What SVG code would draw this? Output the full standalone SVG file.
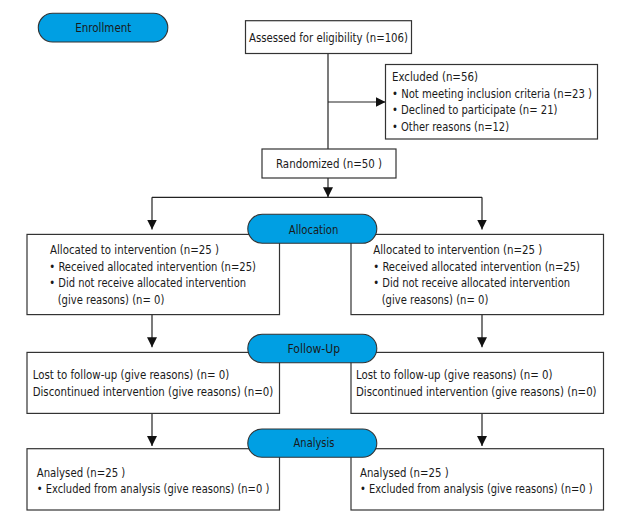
<svg xmlns="http://www.w3.org/2000/svg" width="630" height="525" viewBox="0 0 630 525">
<defs>
<style>
.box{fill:#fff;stroke:#333;stroke-width:1.2}
.pill{fill:#009fe3;stroke:#333;stroke-width:1.1}
.t{font-family:"Liberation Sans Narrow","DejaVu Sans Condensed","Liberation Sans",sans-serif;font-size:13px;fill:#1a1a1a}
.ln{fill:none;stroke:#222;stroke-width:1.2}
</style>
<marker id="ah" markerUnits="userSpaceOnUse" markerWidth="10" markerHeight="10" viewBox="0 0 9 9" refX="9" refY="4.5" orient="auto">
<path d="M0,0 L9,4.5 L0,9 z" fill="#111"/>
</marker>
</defs>
<rect width="630" height="525" fill="#fff"/>
<g id="connectors">
<path class="ln" d="M328,53.5 V149"/>
<path class="ln" d="M328,102 H385.5" marker-end="url(#ah)"/>
<path class="ln" d="M328,178 V197.3" marker-end="url(#ah)"/>
<path class="ln" d="M152,197.3 H482"/>
<path class="ln" d="M152,197.3 V229.5" marker-end="url(#ah)"/>
<path class="ln" d="M482,197.3 V229.5" marker-end="url(#ah)"/>
<path class="ln" d="M152,314.5 V347.3" marker-end="url(#ah)"/>
<path class="ln" d="M482,314.5 V347.3" marker-end="url(#ah)"/>
<path class="ln" d="M152,413.5 V446" marker-end="url(#ah)"/>
<path class="ln" d="M482,413.5 V446" marker-end="url(#ah)"/>
</g>
<g id="enrollment">
<rect class="pill" x="38.3" y="13.3" width="129.5" height="28.7" rx="14.3"/>
<text class="t" x="75.3" y="32" textLength="56" lengthAdjust="spacingAndGlyphs">Enrollment</text>
</g>
<g id="assessed">
<rect class="box" x="245.5" y="20.7" width="166" height="32.8"/>
<text class="t" x="249" y="41.7" textLength="159" lengthAdjust="spacingAndGlyphs">Assessed for eligibility (n=106)</text>
</g>
<g id="excluded">
<rect class="box" x="385.5" y="64.5" width="212" height="74.5"/>
<text class="t" x="392" y="81" textLength="86" lengthAdjust="spacingAndGlyphs">Excluded (n=56)</text>
<text class="t" x="392" y="97.7" textLength="200" lengthAdjust="spacingAndGlyphs">• Not meeting inclusion criteria (n=23 )</text>
<text class="t" x="392" y="114" textLength="165.5" lengthAdjust="spacingAndGlyphs">• Declined to participate (n= 21)</text>
<text class="t" x="392" y="130.5" textLength="117" lengthAdjust="spacingAndGlyphs">• Other reasons (n=12)</text>
</g>
<g id="randomized">
<rect class="box" x="262" y="149" width="134" height="29"/>
<text class="t" x="276" y="168.3" textLength="106" lengthAdjust="spacingAndGlyphs">Randomized (n=50 )</text>
</g>
<g id="alloc-left">
<rect class="box" x="27" y="234.4" width="252.5" height="80.2"/>
<text class="t" x="50" y="254" textLength="169" lengthAdjust="spacingAndGlyphs">Allocated to intervention (n=25 )</text>
<text class="t" x="49.3" y="270.7" textLength="206.7" lengthAdjust="spacingAndGlyphs">• Received allocated intervention (n=25)</text>
<text class="t" x="49.3" y="287.3" textLength="196.7" lengthAdjust="spacingAndGlyphs">• Did not receive allocated intervention</text>
<text class="t" x="57.7" y="304" textLength="106.6" lengthAdjust="spacingAndGlyphs">(give reasons) (n= 0)</text>
</g>
<g id="alloc-right">
<rect class="box" x="351" y="234.4" width="252.5" height="80.2"/>
<text class="t" x="373.3" y="254" textLength="169" lengthAdjust="spacingAndGlyphs">Allocated to intervention (n=25 )</text>
<text class="t" x="373.3" y="270.7" textLength="206.7" lengthAdjust="spacingAndGlyphs">• Received allocated intervention (n=25)</text>
<text class="t" x="373.3" y="287.3" textLength="196.7" lengthAdjust="spacingAndGlyphs">• Did not receive allocated intervention</text>
<text class="t" x="381.7" y="304" textLength="106.6" lengthAdjust="spacingAndGlyphs">(give reasons) (n= 0)</text>
</g>
<g id="allocation">
<rect class="pill" x="247.8" y="214.3" width="129" height="29" rx="14.5"/>
<text class="t" x="288.8" y="234" textLength="49.6" lengthAdjust="spacingAndGlyphs">Allocation</text>
</g>
<g id="followup-left">
<rect class="box" x="27" y="352.4" width="252.5" height="61"/>
<text class="t" x="32.7" y="379.3" textLength="196.6" lengthAdjust="spacingAndGlyphs">Lost to follow-up (give reasons) (n= 0)</text>
<text class="t" x="32.7" y="396" textLength="240.6" lengthAdjust="spacingAndGlyphs">Discontinued intervention (give reasons) (n=0)</text>
</g>
<g id="followup-right">
<rect class="box" x="351" y="352.4" width="252.5" height="61"/>
<text class="t" x="356" y="379.3" textLength="196.6" lengthAdjust="spacingAndGlyphs">Lost to follow-up (give reasons) (n= 0)</text>
<text class="t" x="356" y="396" textLength="240.6" lengthAdjust="spacingAndGlyphs">Discontinued intervention (give reasons) (n=0)</text>
</g>
<g id="followup">
<rect class="pill" x="247.8" y="334.3" width="129" height="28.4" rx="14.2"/>
<text class="t" x="287.6" y="353.3" textLength="52.4" lengthAdjust="spacingAndGlyphs">Follow-Up</text>
</g>
<g id="analysis-left">
<rect class="box" x="27" y="448.7" width="252.5" height="61.3"/>
<text class="t" x="36.7" y="476.7" textLength="88.6" lengthAdjust="spacingAndGlyphs">Analysed (n=25 )</text>
<text class="t" x="36.7" y="492.7" textLength="232.6" lengthAdjust="spacingAndGlyphs">• Excluded from analysis (give reasons) (n=0 )</text>
</g>
<g id="analysis-right">
<rect class="box" x="351" y="448.7" width="252.5" height="61.3"/>
<text class="t" x="360" y="476.7" textLength="88.6" lengthAdjust="spacingAndGlyphs">Analysed (n=25 )</text>
<text class="t" x="360" y="492.7" textLength="232.6" lengthAdjust="spacingAndGlyphs">• Excluded from analysis (give reasons) (n=0 )</text>
</g>
<g id="analysis">
<rect class="pill" x="247.8" y="429" width="129" height="28.3" rx="14.1"/>
<text class="t" x="293.6" y="447.3" textLength="40.8" lengthAdjust="spacingAndGlyphs">Analysis</text>
</g>
</svg>
